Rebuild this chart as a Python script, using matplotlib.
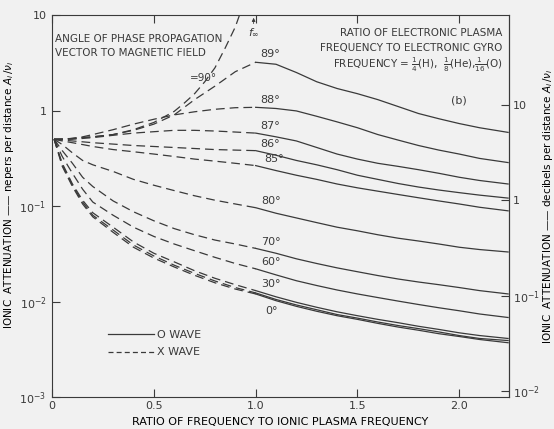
import numpy as np
import matplotlib
matplotlib.use("Agg")
import matplotlib.pyplot as plt
from matplotlib.lines import Line2D
from matplotlib.ticker import NullLocator

INK = "#3a3a3a"
PAPER = "#f1f1f1"

plt.rcParams["font.family"] = ["DejaVu Sans"]
plt.rcParams["mathtext.fontset"] = "dejavusans"
plt.rcParams["text.color"] = INK
plt.rcParams["axes.edgecolor"] = INK
plt.rcParams["xtick.color"] = INK
plt.rcParams["ytick.color"] = INK

# frequency ratio grids: X wave below f/f_pi = 1, O wave above
x_xwave = [0.01, 0.05, 0.1, 0.15, 0.2, 0.3, 0.4, 0.5, 0.6, 0.7, 0.8, 0.9, 1.0]
x_owave = [1.0, 1.1, 1.2, 1.3, 1.4, 1.5, 1.6, 1.7, 1.8, 1.9, 2.0, 2.1, 2.24]

# 90 deg X wave runs off to infinity at f_inf
x_90 = [0.01, 0.1, 0.2, 0.3, 0.4, 0.5, 0.6, 0.65, 0.7, 0.75, 0.8, 0.85, 0.9, 0.95]
att_90 = [0.5, 0.51, 0.53, 0.56, 0.63, 0.75, 0.98, 1.2, 1.5, 2.0, 2.8, 4.5, 7.5, 15.0]
f_inf = 0.99

# attenuation in nepers per distance A_i/v_i, keyed by angle label
xwave = {
    "89°": [0.5, 0.5, 0.51, 0.52, 0.53, 0.56, 0.62, 0.72, 0.9, 1.3, 1.8, 2.55, 3.2],
    "88°": [0.5, 0.5, 0.51, 0.53, 0.56, 0.63, 0.72, 0.81, 0.9, 0.97, 1.03, 1.07, 1.08],
    "87°": [0.5, 0.5, 0.5, 0.51, 0.52, 0.55, 0.58, 0.6, 0.62, 0.62, 0.61, 0.595, 0.58],
    "86°": [0.5, 0.49, 0.48, 0.47, 0.46, 0.445, 0.43, 0.42, 0.41, 0.4, 0.39, 0.385, 0.38],
    "85°": [0.5, 0.48, 0.46, 0.44, 0.42, 0.39, 0.37, 0.35, 0.33, 0.31, 0.295, 0.28, 0.265],
    "80°": [0.5, 0.44, 0.36, 0.3, 0.27, 0.23, 0.19, 0.165, 0.145, 0.128, 0.115, 0.105, 0.096],
    "70°": [0.5, 0.38, 0.28, 0.2, 0.16, 0.113, 0.087, 0.07, 0.058, 0.05, 0.044, 0.04, 0.036],
    "60°": [0.5, 0.33, 0.22, 0.15, 0.11, 0.08, 0.06, 0.048, 0.04, 0.034, 0.029, 0.025, 0.022],
    "30°": [0.5, 0.28, 0.17, 0.115, 0.085, 0.06, 0.042, 0.032, 0.026, 0.021, 0.0175, 0.015, 0.013],
    "": [0.5, 0.27, 0.165, 0.11, 0.08, 0.056, 0.039, 0.03, 0.024, 0.0197, 0.0164, 0.014, 0.0123],
    "0°": [0.5, 0.26, 0.16, 0.105, 0.077, 0.053, 0.037, 0.0285, 0.023, 0.0188, 0.0157, 0.0135, 0.012],
}
owave = {
    "89°": [3.2, 3.05, 2.5, 2.0, 1.7, 1.5, 1.3, 1.1, 0.93, 0.82, 0.73, 0.66, 0.59],
    "88°": [1.08, 1.05, 0.99, 0.87, 0.76, 0.66, 0.56, 0.49, 0.43, 0.385, 0.35, 0.315, 0.285],
    "87°": [0.58, 0.53, 0.48, 0.41, 0.35, 0.31, 0.28, 0.26, 0.24, 0.22, 0.2, 0.185, 0.17],
    "86°": [0.38, 0.34, 0.3, 0.27, 0.24, 0.21, 0.19, 0.172, 0.158, 0.147, 0.138, 0.13, 0.121],
    "85°": [0.265, 0.235, 0.21, 0.19, 0.17, 0.155, 0.143, 0.132, 0.122, 0.113, 0.105, 0.097, 0.089],
    "80°": [0.096, 0.084, 0.075, 0.067, 0.06, 0.055, 0.05, 0.046, 0.043, 0.04, 0.037, 0.035, 0.033],
    "70°": [0.036, 0.032, 0.028, 0.025, 0.0225, 0.0205, 0.0187, 0.0172, 0.016, 0.015, 0.014, 0.013, 0.012],
    "60°": [0.022, 0.019, 0.0165, 0.0147, 0.0132, 0.012, 0.011, 0.0101, 0.0093, 0.0086, 0.008, 0.0074, 0.0068],
    "30°": [0.013, 0.0112, 0.0098, 0.0087, 0.0078, 0.0071, 0.0065, 0.006, 0.0055, 0.0051, 0.0047, 0.0044, 0.0041],
    "": [0.0123, 0.0105, 0.0092, 0.0082, 0.0073, 0.0067, 0.0061, 0.0056, 0.0052, 0.0048, 0.0044, 0.0041, 0.0039],
    "0°": [0.012, 0.0102, 0.0089, 0.0079, 0.0071, 0.0065, 0.0059, 0.0054, 0.005, 0.0046, 0.0043, 0.004, 0.0037],
}
# label offsets (points) from the start of each O-wave branch
label_offset = {
    "89°": (3, 2), "88°": (3, 2), "87°": (3, 1.5), "86°": (3, 1), "85°": (6, 1),
    "80°": (4, 1), "70°": (4, 1), "60°": (4, 1), "30°": (4, 1.5), "0°": (7, -9),
}

xticks = [0, 0.5, 1.0, 1.5, 2.0]
xtick_labels = ["0", "0.5", "1.0", "1.5", "2.0"]
yticks = [1e-3, 1e-2, 1e-1, 1, 10]
ytick_labels = ["$10^{-3}$", "$10^{-2}$", "$10^{-1}$", "1", "10"]
db_ticks = [1e-2, 1e-1, 1, 10]
db_labels = ["$10^{-2}$", "$10^{-1}$", "1", "10"]
NEPER_TO_DB = 8.686

fig = plt.figure(figsize=(5.54, 4.29), dpi=100, facecolor=PAPER)
ax = fig.add_axes([0.094, 0.0746, 0.825, 0.8904], facecolor=PAPER)

dash = (7, 4)
lw = 0.9
ax.plot(x_90, att_90, color=INK, lw=lw, dashes=dash)
for key in xwave:
    ax.plot(x_xwave, xwave[key], color=INK, lw=lw, dashes=dash)
    ax.plot(x_owave, owave[key], color=INK, lw=lw)
    if key:
        dx, dy = label_offset[key]
        ax.annotate(key, xy=(x_owave[0], owave[key][0]), xytext=(dx, dy),
                    textcoords="offset points", fontsize=8,
                    va="bottom" if dy > 0 else "top", ha="left")

ax.set_yscale("log")
ax.set_xlim(0, 2.245)
ax.set_ylim(1e-3, 10)
ax.set_xticks(xticks, xtick_labels)
ax.set_yticks(yticks, ytick_labels)
ax.yaxis.set_minor_locator(NullLocator())
ax.tick_params(direction="in", length=6, width=0.8, labelsize=8, top=True, pad=3)
ax.tick_params(axis="y", pad=4)
for s in ax.spines.values():
    s.set_linewidth(0.8)

sec = ax.secondary_yaxis("right", functions=(lambda n: n * NEPER_TO_DB,
                                             lambda d: d / NEPER_TO_DB))
sec.set_yticks(db_ticks, db_labels)
sec.yaxis.set_minor_locator(NullLocator())
sec.tick_params(direction="in", length=6, width=0.8, labelsize=8, pad=3)
sec.spines["right"].set_linewidth(0.8)

ax.set_xlabel("RATIO OF FREQUENCY TO IONIC PLASMA FREQUENCY", fontsize=8, labelpad=4)
ax.set_ylabel(r"IONIC  ATTENUATION —— nepers per distance $A_i\,/\nu_i$", fontsize=7.5)
ax.yaxis.set_label_coords(-0.08, 0.53)
sec.set_ylabel(r"IONIC  ATTENUATION —— decibels per distance $A_i\,/\nu_i$", fontsize=7.5)
sec.yaxis.set_label_coords(1.07, 0.5, transform=ax.transAxes)

# f_inf marker at the top of the 90 deg branch
ax.annotate("", xy=(f_inf, 10), xytext=(f_inf, 7.6),
            arrowprops=dict(arrowstyle="-|>", color=INK, lw=0.6, mutation_scale=5))
ax.text(f_inf, 7.6, r"$f_{\infty}$", fontsize=8, ha="center", va="top")

ax.text(0.006, 0.92, "ANGLE OF PHASE PROPAGATION\nVECTOR TO MAGNETIC FIELD",
        transform=ax.transAxes, fontsize=7.5, va="center", ha="left", linespacing=1.5)
ax.text(0.36, 0.835, "=90°", transform=ax.transAxes, fontsize=7.5, ha="right", va="center")
ax.text(0.985, 0.953, "RATIO OF ELECTRONIC PLASMA",
        transform=ax.transAxes, fontsize=7.5, ha="right", va="center")
ax.text(0.985, 0.914, "FREQUENCY TO ELECTRONIC GYRO",
        transform=ax.transAxes, fontsize=7.5, ha="right", va="center")
ax.text(0.985, 0.870,
        r"FREQUENCY = $\frac{1}{4}$(H),  $\frac{1}{8}$(He),$\frac{1}{16}$(O)",
        transform=ax.transAxes, fontsize=7.5, ha="right", va="center")
ax.text(0.89, 0.777, "(b)", transform=ax.transAxes, fontsize=8, ha="center", va="center")

handles = [Line2D([], [], color=INK, lw=lw),
           Line2D([], [], color=INK, lw=lw, dashes=(4, 2.5))]
ax.legend(handles, ["O WAVE", "X WAVE"], loc="center left",
          bbox_to_anchor=(0.1, 0.14), frameon=False, fontsize=8,
          handlelength=4.2, handletextpad=0.2, labelspacing=0.7)

fig.savefig("out.png", dpi=100, facecolor=PAPER)
